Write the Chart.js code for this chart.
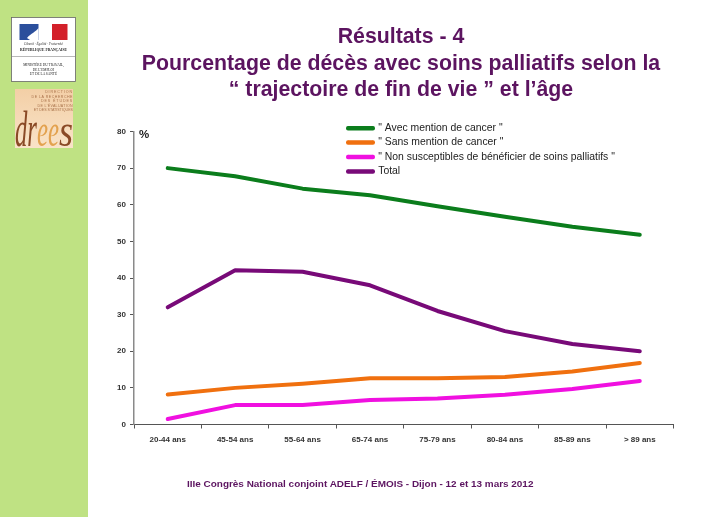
<!DOCTYPE html>
<html lang="fr"><head><meta charset="utf-8">
<script src="https://cdn.jsdelivr.net/npm/chart.js@4/dist/chart.umd.min.js"></script>
<style>
html,body{margin:0;padding:0;background:#fff;width:714px;height:517px;overflow:hidden;font-family:"Liberation Sans",Arial,sans-serif}
#side{position:absolute;left:0;top:0;width:88px;height:517px;background:#bfe283}
#c{position:absolute;left:0;top:0;z-index:2}
.t{position:absolute;z-index:3;white-space:nowrap;font-weight:bold;color:#5c1460}
#title{left:88px;width:626px;top:23px;text-align:center;font-size:21.3px;line-height:26.5px}
#foot{left:187px;top:477px;font-size:9.95px;line-height:13px}
#pct{left:139px;top:128px;font-size:11.5px;color:#222}
#logos{position:absolute;left:0;top:0;z-index:3}
</style></head><body>
<div id="side"></div>
<svg id="logos" width="88" height="160" xmlns="http://www.w3.org/2000/svg">
<defs><linearGradient id="tan" x1="0" y1="0" x2="0" y2="1"><stop offset="0" stop-color="#f3cfa6"/><stop offset="1" stop-color="#f9e3c8"/></linearGradient></defs>
<rect x="11.5" y="17.5" width="64" height="64" fill="#fff" stroke="#666" stroke-width=".8"/>
<rect x="19.5" y="24" width="19" height="16" fill="#2b4f9c"/><rect x="52" y="24" width="15.5" height="16" fill="#d3202a"/>
<path d="M27 38 C31 33 36 32 38.5 28 L38.5 40 L30 40Z" fill="#fff"/>
<text x="43.5" y="45" font-size="3.4" font-style="italic" text-anchor="middle" font-family="Liberation Serif" fill="#333">Liberté · Égalité · Fraternité</text>
<text x="43.5" y="51" font-size="3.7" font-weight="bold" text-anchor="middle" font-family="Liberation Serif" fill="#222">RÉPUBLIQUE FRANÇAISE</text>
<line x1="12" y1="56.5" x2="75" y2="56.5" stroke="#888" stroke-width=".6"/>
<text x="43.5" y="66" font-size="3.5" text-anchor="middle" font-family="Liberation Serif" fill="#222">MINISTÈRE DU TRAVAIL,</text>
<text x="43.5" y="70.5" font-size="3.5" text-anchor="middle" font-family="Liberation Serif" fill="#222">DE L'EMPLOI</text>
<text x="43.5" y="75" font-size="3.5" text-anchor="middle" font-family="Liberation Serif" fill="#222">ET DE LA SANTÉ</text>
<rect x="15" y="89" width="58" height="59" fill="url(#tan)"/>
<text x="73" y="93" font-size="3.6" text-anchor="end" fill="#a9724a" letter-spacing=".9">DIRECTION</text>
<text x="73" y="97.5" font-size="3.6" text-anchor="end" fill="#a9724a" letter-spacing=".5">DE LA RECHERCHE</text>
<text x="73" y="102" font-size="3.6" text-anchor="end" fill="#a9724a" letter-spacing=".9">DES ÉTUDES</text>
<text x="73" y="106.5" font-size="3.6" text-anchor="end" fill="#a9724a" letter-spacing=".3">DE L'ÉVALUATION</text>
<text x="73" y="111" font-size="3.6" text-anchor="end" fill="#a9724a">ET DES STATISTIQUES</text>
<text x="15" y="146" font-size="50" font-style="italic" font-family="Liberation Serif" fill="#8a4a26" textLength="22" lengthAdjust="spacingAndGlyphs">dr</text>
<text x="37" y="146" font-size="46" font-style="italic" font-family="Liberation Serif" fill="#e3a24f" textLength="22" lengthAdjust="spacingAndGlyphs">ee</text>
<text x="59" y="146" font-size="46" font-style="italic" font-family="Liberation Serif" fill="#8a4a26" textLength="14" lengthAdjust="spacingAndGlyphs">s</text>
</svg>
<canvas id="c" width="714" height="517"></canvas>
<div class="t" id="title"><div>Résultats - 4</div><div>Pourcentage de décès avec soins palliatifs selon la</div><div>“ trajectoire de fin de vie ” et l’âge</div></div>
<div class="t" id="pct">%</div>
<div class="t" id="foot">IIIe Congrès National conjoint ADELF / ÉMOIS - Dijon - 12 et 13 mars 2012</div>
<script>
const categories = ["20-44 ans","45-54 ans","55-64 ans","65-74 ans","75-79 ans","80-84 ans","85-89 ans","> 89 ans"];
const avecCancer = [70, 67.8, 64.4, 62.6, 59.6, 56.7, 54.0, 51.8];
const sansCancer = [8.2, 10, 11.1, 12.6, 12.6, 13, 14.5, 16.8];
const nonSusceptibles = [1.5, 5.3, 5.3, 6.7, 7.1, 8.1, 9.7, 11.9];
const total = [32, 42.1, 41.7, 38, 31, 25.5, 22, 20];
const seriesNames = ['" Avec mention de cancer "','" Sans mention de cancer "','" Non susceptibles de bénéficier de soins palliatifs "','Total'];
const yTicks = [0,10,20,30,40,50,60,70,80];

const mk = (label,data,color)=>({label,data,borderColor:color,backgroundColor:color,borderWidth:4,pointRadius:0,tension:0,borderCapStyle:'round',borderJoinStyle:'round',fill:false});
const moveLegend = {id:'moveLegend',afterLayout(chart){
  const l = chart.legend, dx = 344 - l.left, dy = 119 - l.top;
  l.left += dx; l.right += dx; l.top += dy; l.bottom += dy;
  l.adjustHitBoxes();
}};
new Chart(document.getElementById('c'),{
  type:'line',
  data:{labels:categories,datasets:[
    mk(seriesNames[0],avecCancer,'#0b7d1c'),
    mk(seriesNames[1],sansCancer,'#f0700f'),
    mk(seriesNames[2],nonSusceptibles,'#f010e0'),
    mk(seriesNames[3],total,'#780a78')
  ]},
  plugins:[moveLegend],
  options:{
    responsive:false,animation:false,devicePixelRatio:1,
    layout:{padding:{left:100,right:40.5,top:131.5,bottom:60}},
    plugins:{
      title:{display:false},tooltip:{enabled:false},
      legend:{position:'chartArea',align:'start',
        labels:{boxWidth:25,boxHeight:0.5,padding:4,useBorderRadius:true,borderRadius:0.5,color:'#222',
          font:{family:'"Liberation Sans"',size:10.4}}}
    },
    scales:{
      x:{offset:true,
        afterFit(s){s.height=32.5;},
        grid:{display:true,offset:true,drawOnChartArea:false,drawTicks:true,tickLength:4,color:'#555',lineWidth:1},
        border:{color:'#555',width:1},
        ticks:{color:'#333',padding:6,maxRotation:0,autoSkip:false,font:{family:'"Liberation Sans"',size:8,weight:'bold'}}},
      y:{min:0,max:80,
        afterBuildTicks(s){s.ticks=yTicks.map(v=>({value:v}));},
        afterFit(s){s.width=34;},
        grid:{display:true,drawOnChartArea:false,drawTicks:true,tickLength:4,color:'#555',lineWidth:1},
        border:{color:'#8a8a8a',width:1.5},
        ticks:{color:'#333',padding:4,font:{family:'"Liberation Sans"',size:8,weight:'bold'}}}
    }
  }
});
</script>
</body></html>
